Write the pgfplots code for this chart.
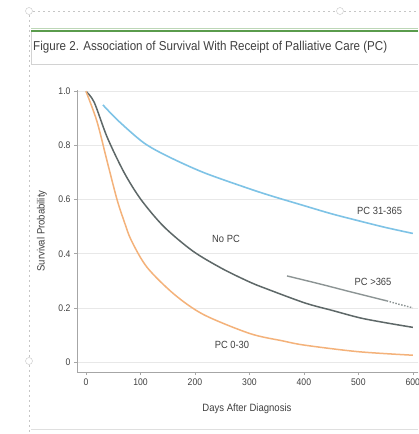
\documentclass[border=0pt]{standalone}
\usepackage{pgfplots}
\pgfplotsset{compat=1.18}
\usepackage{fontspec}
\setmainfont{Liberation Sans}[FakeStretch=0.9]
\definecolor{nopc}{HTML}{5E6868}
\definecolor{pcearly}{HTML}{F4B27A}
\definecolor{pcmid}{HTML}{7EC3E6}
\definecolor{pclate}{HTML}{8C9494}
\definecolor{figgreen}{HTML}{5A9C4C}
\definecolor{txt}{HTML}{404040}
\begin{document}
\begin{tikzpicture}[x=1pt,y=1pt]
\clip (0,0) rectangle (418,434);
\fill[white] (0,0) rectangle (418,434);
% page decorations
\draw[gray!45, dash pattern=on 2pt off 3pt] (33,423) -- (336,423);
\draw[gray!45, dash pattern=on 2pt off 3pt] (344,423) -- (418,423);
\draw[gray!45] (29,423) circle (3.5);
\draw[gray!45] (340,423) circle (3.5);
\draw[gray!45, dash pattern=on 2pt off 3pt] (29,419) -- (29,77);
\draw[gray!45, dash pattern=on 2pt off 3pt] (29,69) -- (29,0);
\draw[gray!45] (29,73) circle (3.5);
\draw[figgreen!40, line width=0.6pt] (31,405.5) -- (418,405.5);
\draw[figgreen, line width=2pt] (31,403) -- (418,403);
\draw[gray!35] (31,402) -- (31,370) -- (418,370);
\draw[gray!25] (31,5) -- (418,5);
\node[anchor=west, text=txt, font=\fontsize{12.9}{14}\selectfont, inner sep=0pt] at (33,387) {Figure 2. Association of Survival With Receipt of Palliative Care (PC)};
\begin{axis}[
  at={(77pt,62pt)}, anchor=south west,
  scale only axis, width=344pt, height=282pt,
  xmin=-16.5, xmax=615, ymin=-0.037, ymax=1.005,
  axis x line*=bottom, axis y line*=left,
  axis line style={-, gray!70, line width=0.8pt},
  xtick={0,100,200,300,400,500,600},
  ytick={0,0.2,0.4,0.6,0.8,1.0},
  yticklabels={0,0.2,0.4,0.6,0.8,1.0},
  ymajorgrids, grid style={gray!18, line width=0.6pt},
  tick align=outside, major tick length=3pt,
  tick style={gray!70, line width=0.6pt},
  ticklabel style={font=\fontsize{9.6}{11}\selectfont, text=txt},
  /pgf/number format/assume math mode=true,
  xlabel={Days After Diagnosis}, ylabel={Survival Probability},
  label style={font=\fontsize{10.6}{12}\selectfont, text=txt},
  xlabel style={at={(axis description cs:0.494,-0.131)}, anchor=center},
  ylabel style={at={(axis description cs:-0.102,0.5)}, anchor=center},
  clip=false,
]
\addplot[pcmid, line width=1.6pt, smooth] coordinates {
(31,0.95) (60,0.89) (106,0.81) (150,0.76) (216,0.70) (300,0.64) (343,0.612) (393,0.582) (450,0.548) (500,0.522) (550,0.497) (600,0.475)};
\addplot[nopc, line width=1.5pt, smooth] coordinates {
(0,1.0) (15,0.96) (39,0.83) (70,0.70) (101,0.60) (143,0.50) (196,0.41) (250,0.345) (301,0.295) (332,0.27) (402,0.218) (453,0.19) (503,0.163) (550,0.145) (600,0.128)};
\addplot[pcearly, line width=1.5pt, smooth] coordinates {
(0,1.0) (20,0.89) (39,0.74) (57,0.60) (70,0.52) (83,0.45) (112,0.35) (162,0.25) (216,0.175) (301,0.105) (361,0.078) (402,0.062) (500,0.038) (600,0.025)};
\addplot[pclate, line width=1.4pt, smooth] coordinates {
(369,0.318) (430,0.288) (490,0.257) (552,0.226)};
\addplot[pclate, line width=1.4pt, dash pattern=on 1.5pt off 1.5pt] coordinates {
(552,0.226) (575,0.213) (600,0.200)};
\node[text=txt, font=\fontsize{10.4}{12}\selectfont] at (axis cs:257,0.455) {No PC};
\node[text=txt, font=\fontsize{10.4}{12}\selectfont] at (axis cs:539,0.56) {PC 31-365};
\node[text=txt, font=\fontsize{10.4}{12}\selectfont] at (axis cs:527,0.295) {PC >365};
\node[text=txt, font=\fontsize{10.4}{12}\selectfont] at (axis cs:268,0.063) {PC 0-30};
\end{axis}
\end{tikzpicture}
\end{document}
